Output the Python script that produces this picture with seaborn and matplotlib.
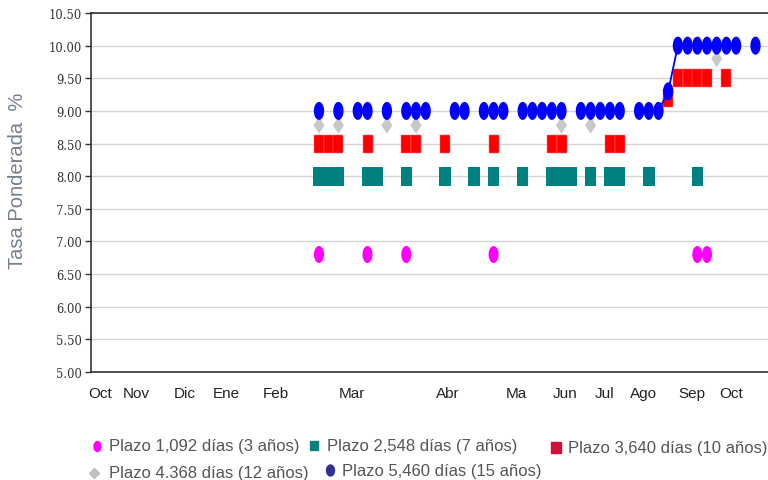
import numpy as np
import pandas as pd
import matplotlib
matplotlib.use("Agg")
import matplotlib.pyplot as plt
import seaborn as sns
from matplotlib.path import Path
from matplotlib.lines import Line2D
from matplotlib import font_manager as fm

# ---------------- data ----------------
month_labels = ["Oct", "Nov", "Dic", "Ene", "Feb", "Mar", "Abr", "Ma", "Jun", "Jul", "Ago", "Sep", "Oct"]
month_pos = [-22.6, -18.8, -13.8, -9.6, -4.5, 3.4, 13.3, 20.3, 25.4, 29.4, 33.5, 38.4, 42.5]

y_ticks = [5.00, 5.50, 6.00, 6.50, 7.00, 7.50, 8.00, 8.50, 9.00, 9.50, 10.00, 10.50]

# auction index (category position) and weighted rate for each term
x_3 = [0, 5, 9, 18, 39, 40]
y_3 = [6.8, 6.8, 6.8, 6.8, 6.8, 6.8]

x_7 = [0, 1, 2, 5, 6, 9, 13, 16, 18, 21, 24, 25, 26, 28, 30, 31, 34, 39]
y_7 = [8.0, 8.0, 8.0, 8.0, 8.0, 8.0, 8.0, 8.0, 8.0, 8.0, 8.0, 8.0, 8.0, 8.0, 8.0, 8.0, 8.0, 8.0]

x_10 = [0, 1, 2, 5, 9, 10, 13, 18, 24, 25, 30, 31, 36, 37, 38, 39, 40, 42]
y_10 = [8.5, 8.5, 8.5, 8.5, 8.5, 8.5, 8.5, 8.5, 8.5, 8.5, 8.5, 8.5, 9.2, 9.5, 9.5, 9.5, 9.5, 9.5]

x_12 = [0, 2, 7, 10, 25, 28, 41]
y_12 = [8.78, 8.78, 8.78, 8.78, 8.78, 8.78, 9.80]

x_15 = [0, 2, 4, 5, 7, 9, 10, 11, 14, 15, 17, 18, 19, 21, 22, 23, 24, 25, 27, 28,
        29, 30, 31, 33, 34, 35, 36, 37, 38, 39, 40, 41, 42, 43, 45]
y_15 = [9.0, 9.0, 9.0, 9.0, 9.0, 9.0, 9.0, 9.0, 9.0, 9.0, 9.0, 9.0, 9.0, 9.0, 9.0, 9.0, 9.0, 9.0, 9.0, 9.0,
        9.0, 9.0, 9.0, 9.0, 9.0, 9.0, 9.3, 10.0, 10.0, 10.0, 10.0, 10.0, 10.0, 10.0, 10.0]

legend_labels = ["Plazo 1,092 días (3 años)", "Plazo 2,548 días (7 años)",
                 "Plazo 3,640 días (10 años)", "Plazo 4.368 días (12 años)",
                 "Plazo 5,460 días (15 años)"]

# ---------------- styling ----------------
sns.set_theme(style="white")
plt.rcParams["font.family"] = ["Liberation Sans", "DejaVu Sans"]

names = {f.name for f in fm.fontManager.ttflist}
xfont = "Liberation Sans Narrow" if "Liberation Sans Narrow" in names else "Liberation Sans"

def ellipse(rx):
    t = np.linspace(0, 2 * np.pi, 64)
    return Path(np.column_stack([rx * np.cos(t), np.sin(t)]), closed=True)

def rect(rx):
    return Path([(-rx, -1), (rx, -1), (rx, 1), (-rx, 1), (-rx, -1)], closed=True)

def diamond(rx):
    return Path([(0, -1), (rx, 0), (0, 1), (-rx, 0), (0, -1)], closed=True)

PX = 100 / 72.0

fig = plt.figure(figsize=(7.68, 4.81), dpi=100)
ax = fig.add_axes([90.5 / 768, 1 - 373 / 481, 1 - 90.5 / 768, (373 - 14) / 481])

# grid
for yv in y_ticks:
    ax.axhline(yv, color="#d4d4d4", lw=1.0, zorder=0)

def scat(xs, ys, marker, h_px, color, z, ec="none", lw=0):
    df = pd.DataFrame({"x": xs, "y": ys})
    sns.scatterplot(data=df, x="x", y="y", ax=ax, marker=marker,
                    s=(h_px / PX) ** 2, color=color, edgecolor=ec,
                    linewidth=lw, zorder=z, legend=False)

scat(x_3, y_3, ellipse(0.59), 17, "#ff00ff", 3)
scat(x_7, y_7, rect(0.605), 19, "#008080", 4)
scat(x_10, y_10, rect(0.56), 18, "#ff0000", 5, ec="#ff7070", lw=0.35)
scat(x_12, y_12, diamond(0.65), 17, "#c8c8cc", 6)

# blue line through contiguous auctions
df15 = pd.DataFrame({"x": x_15, "y": y_15})
df15["run"] = (df15["x"].diff() != 1).cumsum()
sns.lineplot(data=df15, x="x", y="y", units="run", estimator=None, ax=ax,
             color="#0000ff", lw=1.3, zorder=6.5, legend=False)
scat(x_15, y_15, ellipse(0.57), 18, "#0000ff", 7)

ax.set_xlim((90.5 - 319) / 9.7, (768 - 319) / 9.7)
ax.set_ylim(5.0, 10.5)
ax.set_xlabel("")
ax.set_ylabel("")

ax.set_yticks(y_ticks)
ax.set_yticklabels([f"{v:.2f}" for v in y_ticks], family="DejaVu Serif",
                   fontsize=8.3, color="#333333")
ax.tick_params(axis="y", length=4, width=1, color="#333333", pad=2, left=True)
ax.set_xticks(month_pos)
ax.set_xticklabels(month_labels, family=xfont, fontsize=11, color="#222222")
ax.tick_params(axis="x", length=0, pad=10)

for s in ["right"]:
    ax.spines[s].set_visible(False)
for s in ["left", "bottom", "top"]:
    ax.spines[s].set_color("#333333")
    ax.spines[s].set_linewidth(1.2)

fig.text(18 / 768, 1 - 181 / 481, "Tasa Ponderada  %", rotation=90,
         ha="center", va="center", fontsize=14.5, color="#75808f")

# ---------------- legend ----------------
leg = [
    (97, 447, ellipse(0.7), 10, "#ff00ff", 109, 447),
    (314, 446, rect(0.9), 9, "#0e7f80", 327, 446),
    (556, 448, rect(0.9), 11, "#d0103a", 568, 448),
    (94, 474, diamond(1.0), 10, "#c0c0c0", 109, 474),
    (330, 471, ellipse(0.72), 11, "#2e3192", 342, 472),
]
for (mx, my, mk, h, c, tx, ty), lab in zip(leg, legend_labels):
    fig.add_artist(Line2D([mx / 768], [1 - my / 481], transform=fig.transFigure,
                          marker=mk, markersize=h / PX, color=c, lw=0))
    fig.text(tx / 768, 1 - ty / 481, lab, ha="left", va="center",
             fontsize=12, color="#555555")

fig.savefig("out.png", dpi=100)
